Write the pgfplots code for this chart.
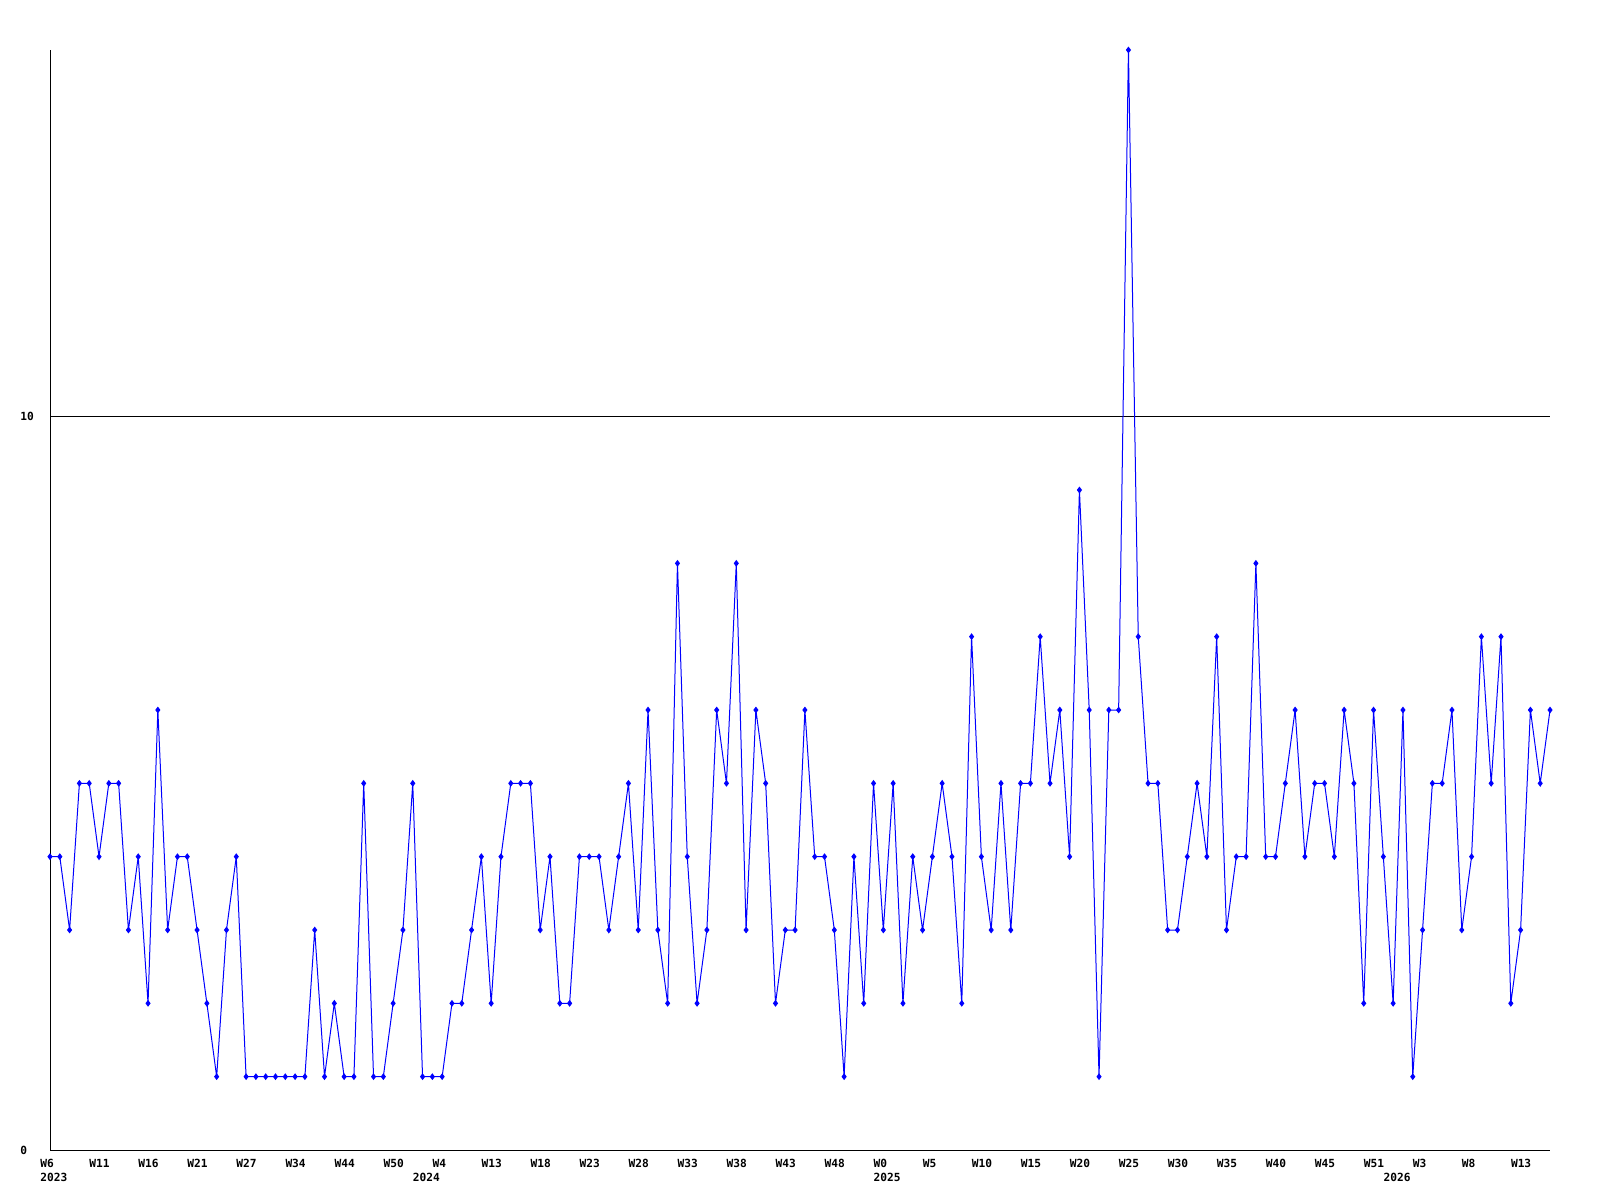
\documentclass[border=0pt]{standalone}
\usepackage{fontspec}
\setmonofont{DejaVu Sans Mono}
\usepackage{pgfplots}
\pgfplotsset{compat=1.18}
\usepackage{pgfplotstable}
\pgfplotstableread{
x y
0 4
1 4
2 3
3 5
4 5
5 4
6 5
7 5
8 3
9 4
10 2
11 6
12 3
13 4
14 4
15 3
16 2
17 1
18 3
19 4
20 1
21 1
22 1
23 1
24 1
25 1
26 1
27 3
28 1
29 2
30 1
31 1
32 5
33 1
34 1
35 2
36 3
37 5
38 1
39 1
40 1
41 2
42 2
43 3
44 4
45 2
46 4
47 5
48 5
49 5
50 3
51 4
52 2
53 2
54 4
55 4
56 4
57 3
58 4
59 5
60 3
61 6
62 3
63 2
64 8
65 4
66 2
67 3
68 6
69 5
70 8
71 3
72 6
73 5
74 2
75 3
76 3
77 6
78 4
79 4
80 3
81 1
82 4
83 2
84 5
85 3
86 5
87 2
88 4
89 3
90 4
91 5
92 4
93 2
94 7
95 4
96 3
97 5
98 3
99 5
100 5
101 7
102 5
103 6
104 4
105 9
106 6
107 1
108 6
109 6
110 15
111 7
112 5
113 5
114 3
115 3
116 4
117 5
118 4
119 7
120 3
121 4
122 4
123 8
124 4
125 4
126 5
127 6
128 4
129 5
130 5
131 4
132 6
133 5
134 2
135 6
136 4
137 2
138 6
139 1
140 3
141 5
142 5
143 6
144 3
145 4
146 7
147 5
148 7
149 2
150 3
151 6
152 5
153 6
}\datatable
\newcommand{\lblfont}{\ttfamily\bfseries\fontsize{5.6}{6.5}\selectfont}
\begin{document}
\begin{tikzpicture}[x=1pt,y=1pt]
\path[use as bounding box] (0,0) rectangle (800,600);
\begin{axis}[
  at={(25pt,25pt)}, anchor=south west,
  scale only axis, width=750pt, height=550pt,
  xmin=0, xmax=153, ymin=0, ymax=15,
  axis x line=bottom, axis y line=left,
  axis line style={-, black, line width=0.5pt},
  major tick length=0pt,
  xtick={0,5,...,150},
  xticklabels={W6,W11,W16,W21,W27,W34,W44,W50,W4,W13,W18,W23,W28,W33,W38,W43,W48,W0,W5,W10,W15,W20,W25,W30,W35,W40,W45,W51,W3,W8,W13},
  xticklabel style={font=\lblfont, anchor=north west, inner sep=0pt, xshift=-5pt, yshift=-4.5pt},
  ytick={0,10}, yticklabels={0,10},
  yticklabel style={font=\lblfont, anchor=west, inner sep=0pt, xshift=-15pt},
  ymajorgrids, grid style={black, line width=0.5pt},
  clip=false,
]
\addplot[color={rgb,255:red,0;green,0;blue,255}, line width=0.5pt, mark=diamond*, mark size=1.3pt, mark options={solid}] table[x=x,y=y] {\datatable};
\node[font=\lblfont, anchor=north west, inner sep=0pt, xshift=-5pt, yshift=-11.5pt] at (axis cs:0,0) {2023};
\node[font=\lblfont, anchor=north west, inner sep=0pt, xshift=-5pt, yshift=-11.5pt] at (axis cs:38,0) {2024};
\node[font=\lblfont, anchor=north west, inner sep=0pt, xshift=-5pt, yshift=-11.5pt] at (axis cs:85,0) {2025};
\node[font=\lblfont, anchor=north west, inner sep=0pt, xshift=-5pt, yshift=-11.5pt] at (axis cs:137,0) {2026};
\end{axis}
\end{tikzpicture}
\end{document}
